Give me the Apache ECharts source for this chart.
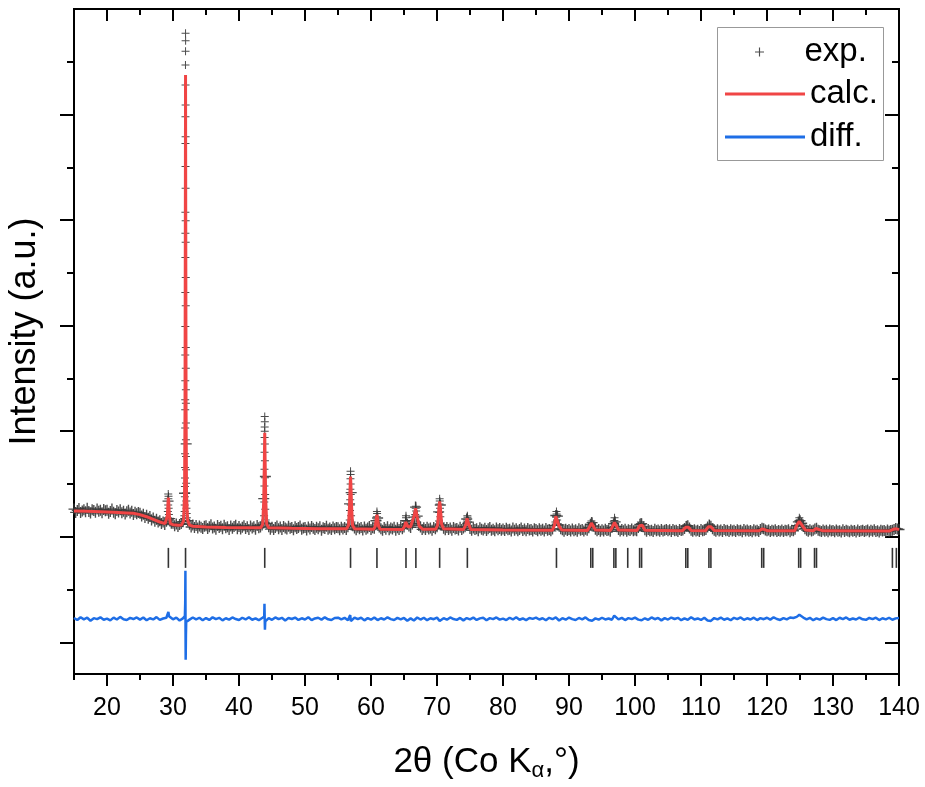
<!DOCTYPE html>
<html>
<head>
<meta charset="utf-8">
<script src="https://cdn.jsdelivr.net/npm/echarts@6/dist/echarts.min.js"></script>
<style>html,body{margin:0;padding:0;background:#fff}#c{width:925px;height:787px}</style>
</head>
<body>
<div id="c"></div>
<script>
// ---------- DATA (intensity in arbitrary counts) ----------
const expStart = 15, expStep = 0.25;
const expGrid = [
262,231,250,268,229,244,257,236,271,240,226,255,249,233,264,241,252,228,259,247,
251,224,240,262,233,219,248,235,256,227,243,216,238,252,225,241,211,233,219,230,
224,196,213,182,203,175,191,160,178,148,166,139,152,126,141,116,147,338,172,128,
128,104,121,98,117,126,143,412,880,152,118,93,112,87,106,82,101,90,78,99,
104,79,96,113,84,92,71,107,88,99,75,110,86,94,68,102,81,97,109,77,
98,74,91,104,79,95,70,101,83,96,72,108,85,93,112,362,571,126,94,72,
91,70,87,101,76,93,68,97,82,74,99,80,89,66,95,78,88,103,71,84,
87,65,92,74,98,80,69,90,77,95,63,86,79,100,72,84,68,93,76,89,
85,67,91,73,88,70,96,312,418,104,82,66,90,75,87,64,93,71,84,97,
68,86,80,152,178,92,76,63,88,71,94,66,83,74,90,61,85,70,92,77,
92,152,118,103,89,121,186,281,196,108,92,70,86,68,91,74,84,62,89,76,
94,236,301,112,81,66,88,70,83,61,87,73,79,64,90,69,82,96,168,139,
79,62,84,69,77,58,86,71,65,81,60,75,88,63,72,57,83,67,78,61,
74,59,80,66,71,55,82,63,76,58,69,84,60,73,56,79,65,70,54,77,
68,57,75,61,72,54,78,63,70,56,74,108,201,196,112,75,66,53,71,60,
70,55,73,58,66,52,75,61,68,54,71,63,86,118,134,101,72,56,69,53,
67,55,72,59,65,52,88,124,141,96,70,55,68,58,71,53,66,60,73,56,
64,57,88,118,124,94,66,52,69,57,63,50,71,58,65,52,69,55,62,70,
58,66,51,68,56,63,49,70,59,64,79,98,104,82,63,52,67,55,62,50,
68,56,63,69,92,112,99,75,61,52,67,55,64,49,68,57,62,51,66,54,
63,50,67,56,61,48,69,55,64,52,60,47,66,54,62,51,68,80,77,64,
58,65,50,62,55,67,49,60,53,64,51,61,56,66,48,62,57,72,106,141,
152,128,101,76,63,52,66,55,62,74,80,61,57,49,64,52,61,47,65,54,
60,48,64,53,58,46,66,51,61,55,47,63,52,59,45,65,50,57,62,49,
58,64,47,61,53,66,50,57,45,62,54,60,48,65,52,59,63,70,78,74,
69
];
const expPeaks = [
[29.28,405],[29.32,385],[29.3,360],[29.27,300],[29.34,270],[29.22,240],[29.38,210],[29.2,180],[29.42,160],
[31.9,4770],[31.91,4700],[31.9,4600],[31.89,4470],[31.9,4280],[31.91,4090],[31.89,3980],[31.91,3790],[31.89,3725],
[31.9,3507],[31.91,3302],[31.88,3075],[31.92,2995],[31.88,2876],[31.92,2790],[31.88,2645],[31.93,2456],[31.87,2314],
[31.93,2188],[31.87,1992],[31.94,1793],[31.86,1723],[31.94,1597],[31.86,1477],[31.95,1392],[31.85,1297],[31.95,1266],
[31.85,1203],[31.96,1077],[31.84,1030],[31.96,919],[31.83,786],[31.97,760],[31.83,656],[31.98,634],[31.82,556],
[31.99,508],[31.81,476],[32.0,414],[31.8,380],[32.02,340],[31.78,300],[32.04,270],[31.76,240],[32.07,220],
[31.72,200],[32.1,180],[31.68,170],[32.15,150],[31.6,145],
[43.9,1140],[43.91,1090],[43.89,1040],[43.9,1000],[43.88,940],[43.92,880],[43.87,800],[43.93,720],[43.86,640],
[43.94,560],[43.85,480],[43.96,400],[43.83,330],[43.98,260],[43.8,200],[44.05,160],[43.7,140],[44.1,130],
[56.9,620],[56.91,590],[56.89,550],[56.92,500],[56.87,450],[56.93,400],[56.85,350],[56.95,300],[56.82,250],
[56.98,200],[56.78,160],[57.05,140],[56.7,120],[57.1,110],
[60.9,240],[60.92,220],[60.88,190],[60.95,160],[60.84,130],[61.0,110],
[65.3,200],[65.31,180],[65.28,150],[65.35,125],[65.22,115],
[66.8,290],[66.78,270],[66.84,245],[66.7,210],[66.9,180],[66.62,160],[66.96,140],[66.5,125],
[70.4,360],[70.42,340],[70.38,310],[70.45,270],[70.34,230],[70.5,190],[70.3,150],[70.58,130],[70.22,110],
[74.6,200],[74.62,185],[74.56,160],[74.7,140],[74.45,125],
[88.1,240],[88.12,215],[88.05,185],[88.2,160],[87.95,140],[88.32,120],
[93.4,150],[93.45,125],
[96.9,180],[96.88,155],[96.95,130],
[100.9,140],[100.95,115],
[107.85,115],
[111.3,122],
[124.9,180],[124.95,162],[124.85,140],[125.05,125]
];
const calcCurve = [
[15,245],[17,242],[19,238],[21,233],[23,226],[24,222],[25,210],[26,190],[27,165],[28,140],[28.8,125],
[29.0,135],[29.15,200],[29.25,330],[29.3,370],[29.35,330],[29.45,200],[29.6,125],[30,115],[30.8,110],
[31.3,112],[31.6,150],[31.75,400],[31.82,1200],[31.87,3000],[31.9,4375],[31.93,3000],[31.98,1200],[32.05,400],
[32.2,160],[32.5,110],[33,100],[35,92],[38,88],[41,85],[43.3,86],
[43.6,120],[43.75,350],[43.85,750],[43.9,985],[43.95,750],[44.05,350],[44.2,120],[44.5,86],[48,80],[52,77],
[56.3,76],[56.6,110],[56.75,300],[56.85,500],[56.9,570],[56.95,500],[57.05,300],[57.2,110],[57.5,76],
[60.4,72],[60.65,100],[60.8,170],[60.9,210],[61.0,170],[61.15,100],[61.4,72],
[64.8,70],[65.1,100],[65.25,140],[65.3,145],[65.4,130],[65.6,95],[66.0,95],
[66.3,110],[66.55,200],[66.75,270],[66.85,265],[67.0,190],[67.3,100],[67.8,72],
[69.8,72],[70.1,110],[70.3,280],[70.4,335],[70.5,290],[70.7,120],[71.0,75],
[74.0,68],[74.35,110],[74.55,175],[74.65,180],[74.8,120],[75.1,70],[80,64],
[87.5,62],[87.8,110],[88.0,195],[88.1,210],[88.25,190],[88.5,100],[88.9,64],
[92.8,60],[93.2,105],[93.4,130],[93.6,120],[94.0,65],
[96.3,60],[96.7,110],[96.9,135],[97.1,120],[97.5,65],
[100.3,60],[100.7,105],[100.9,120],[101.1,110],[101.5,62],
[107.2,58],[107.7,90],[107.9,100],[108.1,90],[108.5,60],
[110.7,58],[111.1,95],[111.3,105],[111.5,95],[112,60],
[118.8,57],[119.3,75],[119.6,70],[120.1,57],
[124.2,58],[124.6,120],[124.9,145],[125.2,130],[125.8,65],
[127.0,57],[127.4,78],[127.7,60],[128.5,56],
[138.6,55],[139.2,72],[139.6,75],[140,68]
];
const diffStart = 15, diffStep = 0.5, diffOffset = -777;
const diffGrid = [
8,-12,15,-5,10,-18,6,-3,14,-9,2,-15,11,-7,18,-4,-11,9,-2,13,
-8,12,-14,5,-6,16,-10,3,10,15,-5,11,-16,4,-30,-8,12,-6,10,-14,
7,-11,14,-3,9,-15,5,-8,13,-2,-12,10,-6,15,-9,4,-13,8,-35,6,
-10,13,-4,9,-16,7,-2,12,-11,5,-7,15,-13,3,10,-8,14,-5,-12,8,
11,-6,9,-14,-20,12,-4,10,-15,6,-9,13,-12,5,-7,14,-3,-11,9,-6,
8,-18,4,-16,12,-7,10,-13,5,-4,11,-19,6,-9,13,-2,-10,8,-15,7,
-5,12,-11,4,9,-14,6,-3,13,-8,2,-12,10,-6,15,-9,3,-13,7,-1,
11,-7,5,-14,9,-4,14,-16,6,-9,12,-3,-11,8,-5,13,-12,-18,4,-8,
10,-6,3,-9,22,-5,9,-12,6,-3,11,-8,-14,5,-10,13,-4,8,-15,6,
-7,12,-2,9,-13,4,-10,14,-6,3,-11,10,-16,-20,7,-5,12,-9,4,-14,
9,-3,13,-10,5,-7,11,-12,6,-4,10,-8,14,-2,-11,7,-6,12,8,18,
30,12,-5,9,-13,4,-8,11,-3,-10,6,-12,10,-4,13,-9,3,-7,12,-5,
-10,8,-3,11,-12,5,-6,10,-9,4,7
];
const diffSpikes = [
[29.2,-5],[29.3,65],[29.4,25],
[31.8,25],[31.85,150],[31.88,455],[31.9,-120],[31.92,-388],[31.96,-150],[32.05,-40],
[43.82,20],[43.86,143],[43.9,-20],[43.93,-103],[43.98,-25],
[56.85,35],[56.95,-22],[65.3,25],[66.8,-28],[70.4,-20],[96.85,30],[124.9,38]
];
const braggPositions = [29.3,31.9,43.9,56.9,60.9,65.3,66.8,70.4,74.6,88.1,93.3,93.6,96.8,97.1,98.9,
  100.7,101.0,107.7,108.0,111.2,111.5,119.2,119.5,124.8,125.1,127.2,127.5,139.0,139.6];
const braggLevel = -200;
const xMajorTicks = [20,30,40,50,60,70,80,90,100,110,120,130,140];
const xMinorTicks = [15,25,35,45,55,65,75,85,95,105,115,125,135];
const yMajorTicks = [-1000,0,1000,2000,3000,4000];
const yMinorTicks = [-500,500,1500,2500,3500,4500];

// ---------- BUILD ----------
const FONT = 'Liberation Sans, Arial, sans-serif';
const expData = expGrid.map((v, i) => [expStart + i * expStep, v]).concat(expPeaks);
const diffData = diffGrid.map((v, i) => [diffStart + i * diffStep, v])
  .concat(diffSpikes)
  .sort((a, b) => a[0] - b[0])
  .map(p => [p[0], p[1] + diffOffset]);
const braggData = braggPositions.map(x => [x, braggLevel]);
const PLUS = 'path://M3.5,0h1v3.5h3.5v1h-3.5v3.5h-1v-3.5h-3.5v-1h3.5z';

function xAx(pos, vals, len, inside, extra) {
  return Object.assign({
    type: 'value', min: 15, max: 140, position: pos,
    axisLine: {show: true, onZero: false, lineStyle: {color: '#000', width: 2}},
    axisTick: {show: true, inside: inside, length: len, customValues: vals, lineStyle: {color: '#000', width: 2}},
    axisLabel: {show: false}, splitLine: {show: false}
  }, extra || {});
}
function yAx(pos, vals, len, inside, extra) {
  return Object.assign({
    type: 'value', min: -1300, max: 5000, position: pos,
    axisLine: {show: true, onZero: false, lineStyle: {color: '#000', width: 2}},
    axisTick: {show: true, inside: inside, length: len, customValues: vals, lineStyle: {color: '#000', width: 2}},
    axisLabel: {show: false}, splitLine: {show: false}
  }, extra || {});
}

const legendText = {fontSize: 33, fontFamily: FONT, color: '#000', lineHeight: 40};
const chart = echarts.init(document.getElementById('c'), null, {renderer: 'canvas'});
chart.setOption({
  animation: false,
  backgroundColor: '#fff',
  grid: {left: 74, right: 26, top: 9, bottom: 113, containLabel: false, outerBoundsMode: 'none'},
  xAxis: [
    xAx('bottom', xMajorTicks, 12, false, {
      axisLabel: {show: true, customValues: xMajorTicks, fontSize: 25, color: '#000', fontFamily: FONT, margin: 22},
      name: '{t|2θ (Co K}{s|α}{t|,°)}', nameLocation: 'middle', nameGap: 68,
      nameTextStyle: {fontSize: 35, color: '#000', fontFamily: FONT,
        rich: {t: {fontSize: 35, fontFamily: FONT, color: '#000', lineHeight: 40},
               s: {fontSize: 22, fontFamily: FONT, color: '#000', lineHeight: 40, padding: [18, 0, 0, 0]}}}
    }),
    xAx('bottom', xMinorTicks, 6, false),
    xAx('top', xMajorTicks, 12, true),
    xAx('top', xMinorTicks, 6, true)
  ],
  yAxis: [
    yAx('left', yMajorTicks, 14, false, {
      name: 'Intensity (a.u.)', nameLocation: 'middle', nameGap: 31, nameRotate: 90,
      nameTextStyle: {fontSize: 36, color: '#000', fontFamily: FONT, padding: [0, 0, 0, 20]}
    }),
    yAx('left', yMinorTicks, 7, false),
    yAx('right', yMajorTicks, 14, true),
    yAx('right', yMinorTicks, 7, true)
  ],
  legend: [
    {data: [{name: 'exp.', icon: PLUS}], left: 750, top: 27, itemWidth: 80, itemHeight: 9,
     textStyle: legendText, selectedMode: false},
    {data: [{name: 'calc.', icon: 'rect'}], left: 720, top: 69, itemWidth: 80, itemHeight: 3,
     textStyle: legendText, selectedMode: false},
    {data: [{name: 'diff.', icon: 'rect'}], left: 720, top: 112, itemWidth: 80, itemHeight: 3,
     textStyle: legendText, selectedMode: false}
  ],
  graphic: [{type: 'rect', left: 717, top: 27, z: 3, shape: {width: 166, height: 133},
             style: {fill: '#fff', stroke: '#999', lineWidth: 1}}],
  series: [
    {name: 'exp.', type: 'scatter', data: expData, symbol: PLUS,
     symbolSize: (v, p) => (p.dataIndex < expGrid.length ? 11 : 8), large: false,
     itemStyle: {color: '#383838', opacity: 0.9}, z: 2},
    {name: 'calc.', type: 'line', data: calcCurve, symbol: 'none', smooth: false,
     lineStyle: {color: '#f04545', width: 3}, itemStyle: {color: '#f04545'}, z: 3},
    {name: 'diff.', type: 'line', data: diffData, symbol: 'none',
     lineStyle: {color: '#1e6ee6', width: 2.5}, itemStyle: {color: '#1e6ee6'}, z: 3},
    {name: 'hkl', type: 'scatter', data: braggData, symbol: 'rect', symbolSize: [1.6, 20],
     itemStyle: {color: '#000'}, z: 3}
  ]
});
</script>
</body>
</html>
